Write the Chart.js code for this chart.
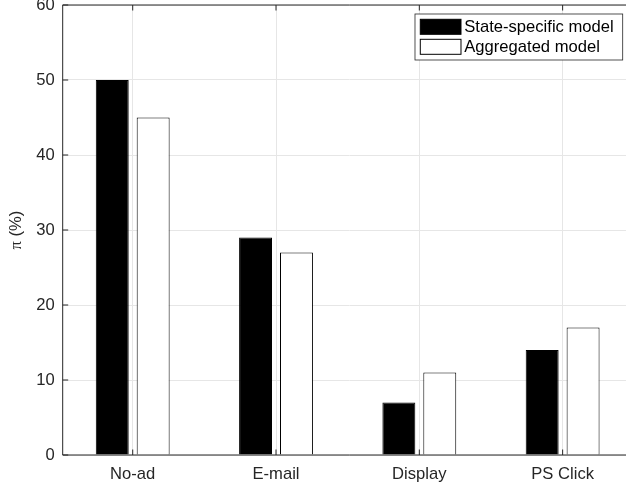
<!DOCTYPE html>
<html>
<head>
<meta charset="utf-8">
<script src="https://cdn.jsdelivr.net/npm/chart.js@4"></script>
<style>
  html, body { margin: 0; padding: 0; background: #ffffff; overflow: hidden; }
  #wrap { width: 626px; height: 488px; overflow: hidden; position: relative; background: #ffffff; }
  canvas { display: block; }
</style>
</head>
<body>
<div id="wrap"><canvas id="c" width="636" height="488"></canvas></div>
<script>
// Share of conversions attributed to each channel, per model
const categories = ['No-ad', 'E-mail', 'Display', 'PS Click'];
const stateSpecific = [50, 29, 7, 14];
const aggregated = [45, 27, 11, 17];
const seriesNames = ['State-specific model', 'Aggregated model'];
const yTickValues = [0, 10, 20, 30, 40, 50, 60];
const yTitleSymbol = 'π';
const yTitleUnit = ' (%)';

const AXIS = '#262626';
const GRID = '#e6e6e6';
const FONT = "'Liberation Sans', Arial, Helvetica, sans-serif";
const FS = 16.6;

// categories sit at x = 1..n on a numeric axis
const catPos = categories.map((c, i) => i + 1);
const toPoints = vals => vals.map((v, i) => ({ x: catPos[i], y: v }));

// Box, inward tick marks, boxed legend and y-axis title
const frame = {
  id: 'frame',
  afterDraw(chart) {
    const ctx = chart.ctx;
    const { left, right, top, bottom } = chart.chartArea;
    const xs = chart.scales.x, ys = chart.scales.y;
    const tl = 5.5;
    ctx.save();
    ctx.strokeStyle = AXIS;
    ctx.lineWidth = 1;
    ctx.beginPath();
    ctx.rect(left, top, right - left, bottom - top);
    ctx.stroke();
    ctx.beginPath();
    yTickValues.forEach(v => {
      const y = ys.getPixelForValue(v);
      ctx.moveTo(left, y); ctx.lineTo(left + tl, y);
      ctx.moveTo(right, y); ctx.lineTo(right - tl, y);
    });
    catPos.forEach(p => {
      const x = xs.getPixelForValue(p);
      ctx.moveTo(x, bottom); ctx.lineTo(x, bottom - tl);
      ctx.moveTo(x, top); ctx.lineTo(x, top + tl);
    });
    ctx.stroke();

    // legend
    ctx.font = FS + 'px ' + FONT;
    const texts = chart.data.datasets.map(d => d.label);
    const tw = Math.max(...texts.map(t => ctx.measureText(t).width));
    const sw = 40.7, sh = 15, rowH = 20;
    const boxW = 5.3 + sw + 3.3 + tw + 9;
    const boxR = 622.7;
    const boxL = boxR - boxW;
    const boxT = top + 9;
    const boxH = 46;
    ctx.fillStyle = '#ffffff';
    ctx.fillRect(boxL, boxT, boxW, boxH);
    ctx.strokeStyle = AXIS;
    ctx.lineWidth = 0.8;
    ctx.strokeRect(boxL, boxT, boxW, boxH);
    chart.data.datasets.forEach((d, i) => {
      const sy = boxT + 5.3 + i * rowH;
      ctx.fillStyle = d.backgroundColor;
      ctx.fillRect(boxL + 5.3, sy, sw, sh);
      ctx.strokeStyle = '#000000';
      ctx.lineWidth = 1;
      ctx.strokeRect(boxL + 5.3, sy, sw, sh);
      ctx.fillStyle = '#000000';
      ctx.textBaseline = 'middle';
      ctx.textAlign = 'left';
      ctx.fillText(d.label, boxL + 5.3 + sw + 3.3, sy + sh / 2 + 0.5);
    });

    // y-axis title
    ctx.translate(16, (top + bottom) / 2);
    ctx.rotate(-Math.PI / 2);
    ctx.fillStyle = AXIS;
    ctx.textBaseline = 'middle';
    ctx.font = FS + "px 'Liberation Serif', 'DejaVu Serif', serif";
    const w1 = ctx.measureText(yTitleSymbol).width;
    ctx.font = FS + 'px ' + FONT;
    const w2 = ctx.measureText(yTitleUnit).width;
    const x0 = -(w1 + w2) / 2;
    ctx.textAlign = 'left';
    ctx.font = FS + "px 'Liberation Serif', 'DejaVu Serif', serif";
    ctx.fillText(yTitleSymbol, x0, 1);
    ctx.font = FS + 'px ' + FONT;
    ctx.fillText(yTitleUnit, x0 + w1, 0);
    ctx.restore();
  }
};

new Chart(document.getElementById('c'), {
  type: 'bar',
  data: {
    datasets: [
      { label: seriesNames[0], data: toPoints(stateSpecific), backgroundColor: '#000000', borderColor: '#000000', borderWidth: 1 },
      { label: seriesNames[1], data: toPoints(aggregated), backgroundColor: '#ffffff', borderColor: '#000000', borderWidth: 1 }
    ]
  },
  options: {
    responsive: false,
    animation: false,
    devicePixelRatio: 1,
    layout: { padding: { top: 5, left: 0, right: 0, bottom: 0 } },
    datasets: { bar: { categoryPercentage: 0.571, barPercentage: 0.805 } },
    plugins: { legend: { display: false }, tooltip: { enabled: false } },
    scales: {
      x: {
        type: 'linear',
        offset: false,
        min: 0.5115, max: 4.512,
        afterBuildTicks(s) { s.ticks = catPos.map(v => ({ value: v })); },
        grid: { offset: false, color: GRID, lineWidth: 1, drawTicks: false },
        border: { display: false },
        ticks: {
          color: AXIS, font: { family: FONT, size: FS }, padding: 9, maxRotation: 0,
          callback: v => categories[v - 1]
        },
        afterFit(s) { s.height = 33; s.paddingLeft = 0; s.paddingRight = 0; }
      },
      y: {
        min: 0, max: 60,
        afterBuildTicks(s) { s.ticks = yTickValues.map(v => ({ value: v })); },
        grid: { color: GRID, lineWidth: 1, drawTicks: false },
        border: { display: false },
        ticks: { color: AXIS, font: { family: FONT, size: FS }, padding: 8 },
        afterFit(s) { s.width = 62.7; s.paddingTop = 0; s.paddingBottom = 0; }
      }
    }
  },
  plugins: [frame]
});
</script>
</body>
</html>
